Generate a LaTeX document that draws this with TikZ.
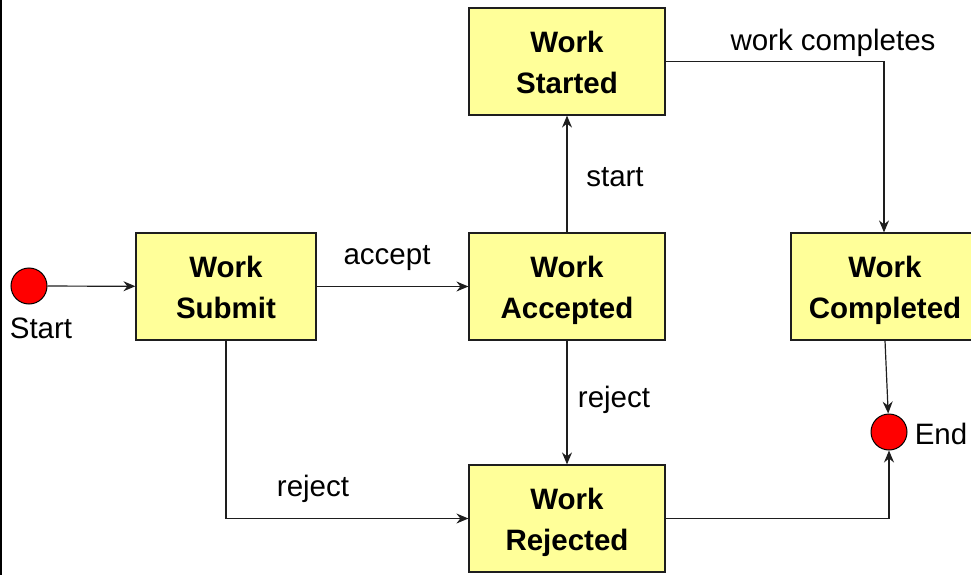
\documentclass[tikz,border=0pt]{standalone}
\usepackage{fontspec}
\setmainfont{Liberation Sans}
\usetikzlibrary{arrows.meta}
\definecolor{statefill}{RGB}{255,255,153}
\definecolor{dotred}{RGB}{255,0,0}
\definecolor{wire}{RGB}{30,30,30}
% uniform line box for the two-line state names
\newcommand\lnstrut{\rule[-9pt]{0pt}{41pt}}
\newcommand\twoline[2]{\lnstrut#1\\\lnstrut#2}
\tikzset{
  state/.style={draw=wire, line width=1.2pt, fill=statefill, align=center,
    minimum width=196pt, minimum height=107pt, inner sep=0pt,
    font=\fontsize{29.5}{41}\selectfont\bfseries},
  pseudo/.style={draw=black, line width=1pt, fill=dotred, circle,
    minimum size=36pt, inner sep=0pt},
  lbl/.style={font=\fontsize{29.5}{34}\selectfont, inner sep=0pt},
  arr/.style={draw=wire, line width=1.2pt,
    -{Stealth[length=12pt,width=10pt,inset=4pt]}}
}
\begin{document}
\begin{tikzpicture}[x=1pt,y=-1pt]
  \useasboundingbox (0,0) rectangle (971,575);
  \clip (0,0) rectangle (971,575);
  % left frame edge
  \draw[line width=2pt] (1,0) -- (1,575);

  % states
  \node[state, minimum width=180pt] (submit) at (226,286.5) {\twoline{Work}{Submit}};
  \node[state] (accepted) at (567,286.5) {\twoline{Work}{Accepted}};
  \node[state] (started)  at (567,61.5)  {\twoline{Work}{Started}};
  \node[state] (rejected) at (567,518.5) {\twoline{Work}{Rejected}};
  \node[state, minimum width=188pt] (completed) at (885,286.5) {\twoline{Work}{Completed}};

  % initial and final pseudo-states
  \node[pseudo] (start) at (29,286) {};
  \node[pseudo] (end)   at (889,432) {};
  \node[lbl] (startlbl) at (41,328) {Start};
  \node[lbl] (endlbl)   at (941,434) {End};

  % transitions
  \draw[arr] (start) -- (submit);
  \draw[arr] (submit) -- (accepted);
  \draw[arr] (accepted) -- (started);
  \draw[arr] (accepted) -- (rejected);
  \draw[arr] (submit.south) |- (rejected.west);
  \coordinate (cin) at ([xshift=-1pt]completed.north);
  \draw[arr] (started.east) -| (cin);
  \draw[arr] (completed.south) -- (end);
  \draw[arr] (rejected.east) -| (end.south);

  % transition labels
  \node[lbl] (tAccept)   at (387,258) {accept};
  \node[lbl] (tStart)    at (615,177) {start};
  \node[lbl] (tReject1)  at (614,400) {reject};
  \node[lbl] (tReject2)  at (313,489) {reject};
  \node[lbl] (tComplete) at (833,43)  {work completes};
\end{tikzpicture}
\end{document}
